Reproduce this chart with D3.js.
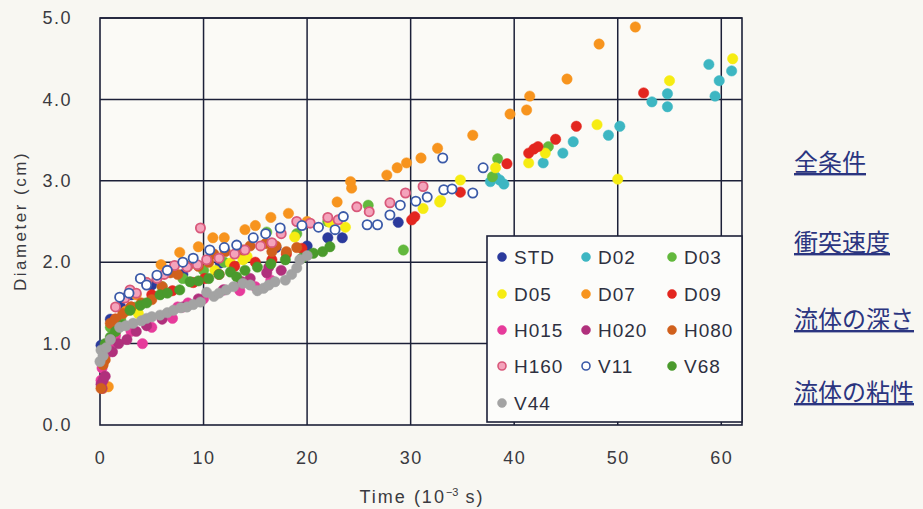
<!DOCTYPE html>
<html><head><meta charset="utf-8">
<script src="https://cdn.jsdelivr.net/npm/d3@7/dist/d3.min.js"></script>
<style>
html,body{margin:0;padding:0;background:#f8f7f2;}
svg{display:block;}
</style></head>
<body>
<svg id="chart" width="923" height="509"></svg>
<script>
// ---- data: [time (10^-3 s), diameter (cm)] ----
const seriesNames = ["STD","D02","D03","D05","D07","D09","H015","H020","H080","H160","V11","V68","V44"];
const STD = [[0.1,0.98],[1,1.3],[2,1.45],[3,1.6],[5,1.72],[8,1.85],[11.6,1.99],[14,2.05],[17,2.18],[20,2.2],[22,2.3],[23.4,2.30],[28.8,2.49]];
const D02 = [[37.7,2.99],[38.2,3.05],[38.6,3.01],[39,2.96],[42.8,3.22],[44.7,3.34],[45.7,3.48],[49.1,3.56],[50.2,3.67],[53.3,3.97],[54.8,4.07],[54.8,3.91],[59.4,4.04],[59.8,4.23],[58.8,4.43],[61.0,4.35]];
const D03 = [[1,1.2],[2,1.3],[3.5,1.45],[6,1.7],[8,1.8],[10,1.9],[12,2.0],[14,2.05],[16.1,2.37],[19,2.35],[22,2.5],[25.9,2.7],[29.3,2.15],[37.9,3.05],[38.4,3.27],[43.3,3.42]];
const D05 = [[3.7,1.37],[11.1,1.9],[12.6,1.99],[13.8,2.03],[14.2,2.07],[18.8,2.31],[22.2,2.49],[23.7,2.43],[31.2,2.66],[32.8,2.74],[32.9,2.76],[34.8,3.01],[38.2,3.16],[41.4,3.22],[43,3.34],[48,3.69],[50,3.02],[55,4.23],[61.1,4.5]];
const D07 = [[0.3,0.45],[0.8,0.47],[1.5,1.3],[2.5,1.4],[3.5,1.6],[4.5,1.75],[5.9,1.97],[7.7,2.12],[9.5,2.19],[10.9,2.30],[12,2.3],[14,2.4],[15,2.45],[16.5,2.55],[18.2,2.6],[20,2.5],[22.9,2.74],[24.2,2.99],[24.3,2.91],[27.7,3.07],[28.7,3.16],[29.6,3.22],[31.0,3.28],[32.6,3.40],[36.0,3.56],[39.6,3.82],[41.2,3.87],[41.5,4.04],[45.1,4.25],[48.2,4.68],[51.7,4.89]];
const D09 = [[0.5,0.9],[1.5,1.3],[3,1.45],[5,1.6],[7,1.65],[9,1.75],[10.1,1.8],[11.5,1.85],[13,1.95],[15,2.0],[16.6,2.03],[18,2.1],[19.5,2.17],[30.1,2.52],[30.4,2.56],[34.8,2.86],[39.3,3.21],[41.4,3.34],[41.9,3.39],[42.3,3.42],[44,3.51],[46,3.67],[52.5,4.08]];
const H015 = [[0.1,0.55],[0.2,0.7],[0.5,0.85],[1,1.0],[1.5,1.1],[3,1.15],[4.1,1.0],[5,1.2],[7,1.31],[7.5,1.45],[8.5,1.5],[10,1.55],[12,1.66],[13.5,1.65],[15,1.7],[16.5,1.78]];
const H020 = [[0.1,0.5],[0.2,0.45],[0.3,0.55],[0.5,0.6],[1.2,0.9],[1.8,1.0],[2.6,1.05],[3.5,1.15],[4.5,1.22],[6,1.3],[8,1.45],[9.5,1.55],[11.9,1.66],[13.7,1.76],[14.5,1.8],[16.1,1.87],[16.3,1.94],[17.5,1.9]];
const H080 = [[0.1,0.45],[0.3,0.74],[0.5,0.8],[1,1.25],[1.5,1.3],[2.2,1.37],[3,1.45],[4,1.5],[5,1.54],[6,1.7],[6.8,1.87],[7.5,1.85],[8.5,1.95],[9.5,1.95],[10.5,2.0],[11,2.1],[12.1,2.13],[13.8,2.15],[14.5,2.2],[16,2.23],[16.6,2.13],[17,2.2],[18,2.13],[19,2.18]];
const H160 = [[1.5,1.45],[2.4,1.56],[2.9,1.66],[3.5,1.62],[4.5,1.75],[5.5,1.8],[6.2,1.85],[7.2,1.96],[8.4,1.94],[9.4,1.97],[9.7,2.42],[10.3,2.03],[11.5,2.05],[13,2.1],[14,2.15],[15.5,2.2],[16.6,2.24],[17.5,2.35],[19,2.5],[20.3,2.48],[22,2.55],[23,2.52],[24.8,2.68],[26,2.62],[28,2.73],[29.5,2.85],[31.2,2.93]];
const V11 = [[1.9,1.57],[2.8,1.62],[3.9,1.8],[4.5,1.72],[5.5,1.84],[6.5,1.9],[8,2.0],[9,2.05],[10.6,2.15],[12,2.18],[13.2,2.21],[14.8,2.3],[16,2.35],[17.4,2.42],[19.5,2.45],[21.1,2.43],[22.7,2.4],[23.5,2.56],[25.8,2.46],[26.8,2.46],[28,2.58],[29,2.7],[30.5,2.75],[31.6,2.8],[33.1,3.28],[33.2,2.89],[34,2.9],[36,2.85],[37,3.16]];
const V68 = [[0.5,1.0],[1,1.08],[1.5,1.15],[2.2,1.23],[2.9,1.41],[3.9,1.47],[4.5,1.5],[5.8,1.6],[6.5,1.62],[7.7,1.66],[8.7,1.76],[9.5,1.77],[10.5,1.8],[11.5,1.85],[12.6,1.88],[13.2,1.82],[14,1.9],[15.2,1.94],[16.5,1.98],[17.9,2.03],[19.5,2.05],[20.6,2.11],[21.5,2.13],[22.2,2.19]];
const V44 = [[0,0.78],[0.1,0.92],[0.3,0.85],[0.6,0.95],[1,1.05],[1.9,1.2],[2.5,1.22],[3.2,1.25],[4,1.28],[4.5,1.31],[5,1.33],[5.8,1.35],[6.5,1.38],[7.1,1.41],[7.8,1.44],[8.4,1.45],[9,1.48],[9.7,1.51],[10.3,1.63],[11,1.58],[11.5,1.62],[12.2,1.66],[12.9,1.7],[13.8,1.74],[14.5,1.72],[15.2,1.65],[15.8,1.68],[16.3,1.72],[16.9,1.76],[17.9,1.78],[18.5,1.85],[19,1.93],[19.3,2.03],[20,2.08]];
const xTicks = [0,10,20,30,40,50,60];
const yTicks = [0,1,2,3,4,5];
const sideLinks = ["全条件","衝突速度","流体の深さ","流体の粘性"];

const seriesData = [STD,D02,D03,D05,D07,D09,H015,H020,H080,H160,V11,V68,V44];
const fills  = ["#2b3a9c","#3db6c2","#62b83c","#f6ec12","#f7941e","#e3261f","#e63b9b","#b0307c","#d0601c","#f4a3bb","#ffffff","#4a9a2c","#a3a3a3"];
const strokes= ["#2b3a9c","#3db6c2","#62b83c","#f6ec12","#f7941e","#e3261f","#e63b9b","#b0307c","#d0601c","#d8587a","#3b5aa8","#4a9a2c","#a3a3a3"];

const svg = d3.select("#chart");
const x = d3.scaleLinear().domain([0,62]).range([100,742]);
const y = d3.scaleLinear().domain([0,5]).range([425,18]);
const ink = "#1c2038";
const font = "Liberation Sans, Arial, sans-serif";

// grid
const g = svg.append("g");
g.append("rect").attr("x",x(0)).attr("y",y(5)).attr("width",x(62)-x(0)).attr("height",y(0)-y(5))
 .attr("fill","#fbfaf6").attr("stroke",ink).attr("stroke-width",1.6);
g.selectAll("line.v").data(xTicks.slice(1)).join("line")
 .attr("x1",d=>x(d)).attr("x2",d=>x(d)).attr("y1",y(0)).attr("y2",y(5))
 .attr("stroke",ink).attr("stroke-width",1.5);
g.selectAll("line.h").data(yTicks.slice(1)).join("line")
 .attr("x1",x(0)).attr("x2",x(62)).attr("y1",d=>y(d)).attr("y2",d=>y(d))
 .attr("stroke",ink).attr("stroke-width",1.5);

// axes via d3 axis (labels only)
const yAxis = d3.axisLeft(y).tickValues(yTicks).tickFormat(d3.format(".1f")).tickSize(0).tickPadding(28);
const xAxis = d3.axisBottom(x).tickValues(xTicks).tickFormat(d3.format("d")).tickSize(0).tickPadding(26);
const ya = svg.append("g").attr("transform",`translate(${x(0)},0)`).call(yAxis);
const xa = svg.append("g").attr("transform",`translate(0,${y(0)})`).call(xAxis);
[ya,xa].forEach(a=>{
  a.select(".domain").remove();
  a.selectAll("text").attr("font-family",font).attr("font-size",18).attr("letter-spacing",1.5).attr("fill","#3a3a40");
});

svg.append("text").attr("transform",`translate(26,221) rotate(-90)`).attr("text-anchor","middle")
 .attr("font-family",font).attr("font-size",17).attr("letter-spacing",2.5).attr("fill","#3a3a40")
 .text("Diameter (cm)");
const xt = svg.append("text").attr("x",422).attr("y",503).attr("text-anchor","middle")
 .attr("font-family",font).attr("font-size",18).attr("letter-spacing",2).attr("fill","#3a3a40");
xt.append("tspan").text("Time (10");
xt.append("tspan").attr("dy",-7).attr("font-size",11).attr("letter-spacing",0).text("−3");
xt.append("tspan").attr("dy",7).text(" s)");

// points
const pts = svg.append("g");
seriesData.forEach((data,i)=>{
  pts.append("g").selectAll("circle").data(data).join("circle")
    .attr("cx",d=>x(d[0])).attr("cy",d=>y(d[1])).attr("r", i===10||i===9 ? 4.6 : 5.2)
    .attr("fill",fills[i]).attr("stroke",strokes[i]).attr("stroke-width", i===10||i===9 ? 1.8 : 0.5);
});

// legend
const lg = svg.append("g");
lg.append("rect").attr("x",487).attr("y",236).attr("width",742-487).attr("height",186)
  .attr("fill","#fcfcfa").attr("stroke",ink).attr("stroke-width",1.6);
const colX = [502,586,672], rowY = [257,294,330,366,403];
seriesNames.forEach((name,i)=>{
  const cx = colX[i%3], cy = rowY[Math.floor(i/3)];
  lg.append("circle").attr("cx",cx).attr("cy",cy).attr("r",(i===10||i===9)?4:4.5)
    .attr("fill",fills[i]).attr("stroke",strokes[i]).attr("stroke-width",(i===10||i===9)?1.6:0.5);
  lg.append("text").attr("x",cx+12).attr("y",cy+7).attr("font-family",font)
    .attr("font-size",19).attr("letter-spacing",1).attr("fill","#2e3040").text(name);
});

// side links
const linkY = [163,243,320,393];
sideLinks.forEach((t,i)=>{
  svg.append("text").attr("x",794).attr("y",linkY[i]+8)
    .attr("font-family","Noto Sans CJK JP, sans-serif").attr("font-size",24).attr("fill","#2b3580")
    .attr("text-decoration","underline").text(t);
});
</script>
</body></html>
